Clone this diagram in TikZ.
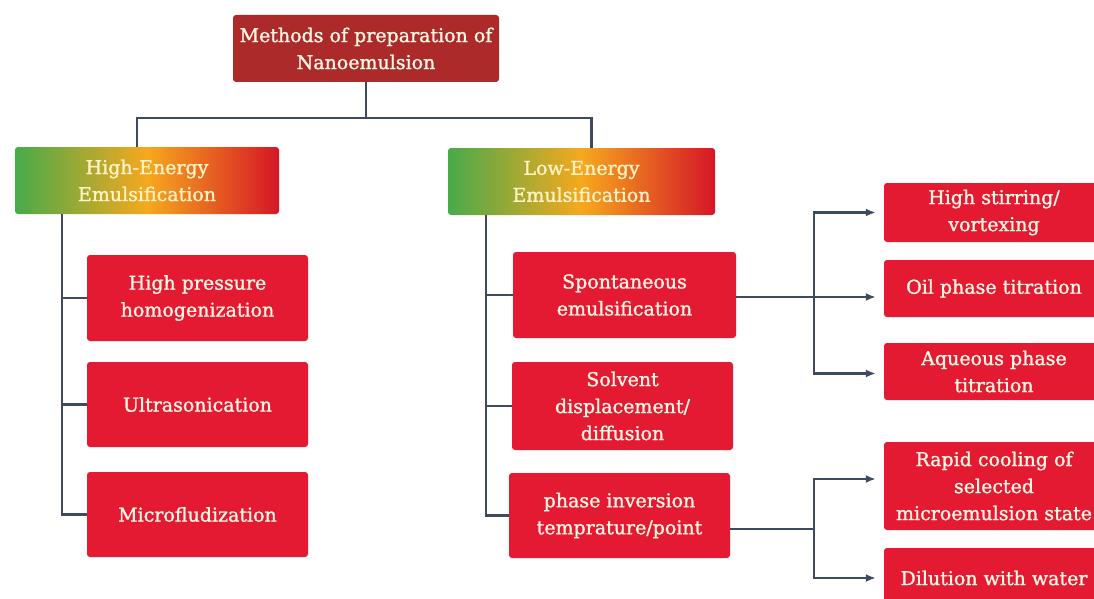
\documentclass[tikz,border=0pt]{standalone}
\usepackage{fontspec}
\setmainfont{DejaVu Serif}[BoldFont=DejaVu Serif, BoldFeatures={FakeBold=1.3}]
\usepackage{tikz}
\usetikzlibrary{arrows.meta}

\definecolor{boxred}{RGB}{228,26,50}
\definecolor{topred}{RGB}{172,42,42}
\definecolor{lineslate}{RGB}{62,74,96}
\definecolor{cream}{RGB}{255,246,228}
\definecolor{paleyel}{RGB}{255,243,196}
\definecolor{gradgreen}{RGB}{72,170,74}
\definecolor{gradorange}{RGB}{246,168,30}
\definecolor{gradred}{RGB}{214,22,38}

\tikzset{
  method/.style={rectangle, rounded corners=3pt, fill=boxred, text=cream,
    align=center, inner sep=0pt, font=\fontsize{19}{27}\selectfont\bfseries},
  energy/.style={rectangle, rounded corners=3pt, left color=gradgreen,
    right color=gradred, middle color=gradorange, text=paleyel,
    align=center, inner sep=0pt, font=\fontsize{19}{27}\selectfont\bfseries},
  link/.style={draw=lineslate, line width=2.2pt},
  feed/.style={link, -{Latex[length=10pt, width=8pt]}, shorten >=8pt}
}

\begin{document}
\begin{tikzpicture}[x=1pt, y=-1pt]
    \clip (0,0) rectangle (1094,599);
    \fill[white] (0,0) rectangle (1094,599);

    \node [method, fill=topred, minimum width=266pt, minimum height=67pt] (title) at (366,48.5) {Methods of preparation of\\Nanoemulsion};

    \node [energy, minimum width=264pt, minimum height=67pt] (he) at (147,180.5) {High-Energy\\Emulsification};
    \node [energy, minimum width=267pt, minimum height=67pt] (le) at (581.5,181.5) {Low-Energy\\Emulsification};

    \node [method, minimum width=221pt, minimum height=86pt] (hp) at (197.5,298) {High pressure\\homogenization};
    \node [method, minimum width=221pt, minimum height=85pt] (us) at (197.5,404.5) {Ultrasonication};
    \node [method, minimum width=221pt, minimum height=85pt] (mf) at (197.5,514.5) {Microfludization};

    \node [method, minimum width=223pt, minimum height=86pt] (sp) at (624.5,295) {Spontaneous\\emulsification};
    \node [method, minimum width=221pt, minimum height=88pt] (sd) at (622.5,406) {Solvent\\displacement/\\diffusion};
    \node [method, minimum width=221pt, minimum height=85pt] (pi) at (619.5,515.5) {phase inversion\\temprature/point};

    \node [method, minimum width=220pt, minimum height=59pt] (hs) at (994,212.5) {High stirring/\\vortexing};
    \node [method, minimum width=220pt, minimum height=57pt] (op) at (994,288.5) {Oil phase titration};
    \node [method, minimum width=220pt, minimum height=57pt] (aq) at (994,371.5) {Aqueous phase\\titration};
    \node [method, minimum width=220pt, minimum height=88pt] (rc) at (994,486) {Rapid cooling of\\selected\\microemulsion state};
    \node [method, minimum width=220pt, minimum height=60pt] (dw) at (994,578) {Dilution with water};

    \coordinate (hub) at (366,118);
    \draw [link] (title.south) -- (hub);
    \draw [link] ([xshift=-10pt]he.north) |- (hub) -| ([xshift=10pt]le.north);

    \coordinate (hetrunk) at (62,214);
    \draw [link] (hetrunk) |- (mf.west);
    \draw [link] (hetrunk |- hp.west) -- (hp.west);
    \draw [link] (hetrunk |- us.west) -- (us.west);

    \coordinate (letrunk) at (486,215);
    \draw [link] (letrunk) |- (pi.west);
    \draw [link] (letrunk |- sp.west) -- (sp.west);
    \draw [link] (letrunk |- sd.west) -- (sd.west);

    \coordinate (spfork) at (814,297);
    \draw [feed] (sp.east |- spfork) -- (op.west |- spfork);
    \draw [feed] (spfork) |- (hs.west);
    \draw [feed] (spfork) |- ([yshift=-2pt]aq.west);

    \coordinate (pifork) at (814,529);
    \draw [link] (pi.east |- pifork) -- (pifork);
    \draw [feed] (pifork) |- ([yshift=7pt]rc.west);
    \draw [feed] (pifork) |- (dw.west);
\end{tikzpicture}
\end{document}
